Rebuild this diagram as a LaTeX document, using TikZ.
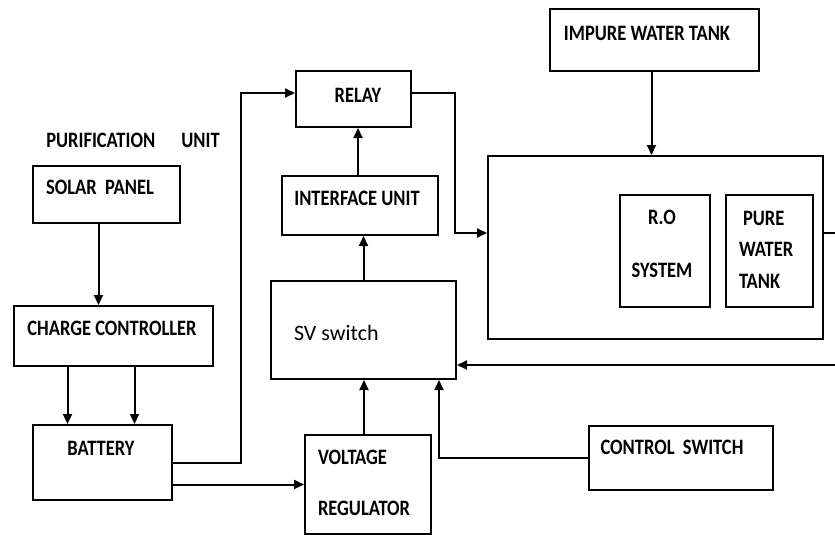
\documentclass[tikz,border=0pt]{standalone}
\usepackage{fontspec}
\setmainfont{Carlito}
\newfontfamily\capfont{Carlito}[FakeStretch=0.84]
\usetikzlibrary{arrows.meta}
\begin{document}
\begin{tikzpicture}[x=1pt, y=-1pt, line width=2pt,
  blk/.style={draw, rectangle, inner sep=0pt, anchor=north west},
  txt/.style={inner sep=0pt, font=\capfont\bfseries\fontsize{22}{26}\selectfont},
  >={Triangle[length=10pt, width=9pt]}]
  \useasboundingbox (0,0) rectangle (835,535);
  % 블록
  \node[blk, minimum width=209, minimum height=62] (imp) at (549,8) {};
  \node[blk, minimum width=115, minimum height=56] (relay) at (295,70) {};
  \node[blk, minimum width=147, minimum height=57] (solar) at (32,165) {};
  \node[blk, minimum width=156, minimum height=59] (iface) at (281,175) {};
  \node[blk, minimum width=335, minimum height=183] (big) at (487,155) {};
  \node[blk, minimum width=90, minimum height=112] (ro) at (619,194) {};
  \node[blk, minimum width=87, minimum height=112] (pure) at (725,194) {};
  \node[blk, minimum width=199, minimum height=60] (cc) at (13,305) {};
  \node[blk, minimum width=185, minimum height=98] (sv) at (270,280) {};
  \node[blk, minimum width=139, minimum height=75] (bat) at (32,424) {};
  \node[blk, minimum width=126, minimum height=99] (vreg) at (304,434) {};
  \node[blk, minimum width=184, minimum height=64] (ctrl) at (588,425) {};
  % 글자
  \node[txt] (imptxt) at (647,33) {IMPURE WATER TANK};
  \node[txt] (relaytxt) at (358,95) {RELAY};
  \node[txt] (unittxt) at (133,140) {PURIFICATION\quad\ UNIT};
  \node[txt] (solartxt) at (100,187) {SOLAR\ \ PANEL};
  \node[txt] (ifacetxt) at (357,198) {INTERFACE UNIT};
  \node[txt] (rotxt) at (662,217) {R.O};
  \node[txt] (systxt) at (662,270) {SYSTEM};
  \node[txt, anchor=west] (puretxt) at (742,218) {PURE};
  \node[txt, anchor=west] (watertxt) at (738,249) {WATER};
  \node[txt, anchor=west] (tanktxt) at (738,281) {TANK};
  \node[txt] (cctxt) at (112,328) {CHARGE CONTROLLER};
  \node[txt, anchor=west, font=\fontsize{22}{26}\selectfont] (svtxt) at (293,333) {SV switch};
  \node[txt] (battxt) at (101,448) {BATTERY};
  \node[txt, anchor=west] (volttxt) at (317,457) {VOLTAGE};
  \node[txt, anchor=west] (regtxt) at (317,508) {REGULATOR};
  \node[txt] (ctrltxt) at (672,447) {CONTROL\ \ SWITCH};
  % 꺾이는 점
  \coordinate (relayjog) at (455,233);
  \coordinate (batjog) at (241,300);
  \coordinate (fbin) at (835,365);
  \coordinate (pout) at (835,233);
  % 연결선
  \draw[->] ([xshift=-3pt]imp.south) -- ([xshift=-3pt]imp.south |- big.north);
  \draw[->] ([yshift=6pt]relay.east) -| (relayjog) -- (relayjog -| big.west);
  \draw (big.east |- pout) -- (pout);
  \draw[->] (fbin) -- (fbin -| sv.east);
  \draw[->] ([xshift=-2pt]iface.north) -- ([xshift=-2pt]iface.north |- relay.south);
  \draw[->] (sv.north) -- (sv.north |- iface.south);
  \draw[->] ([xshift=-4pt]vreg.north) -- ([xshift=-4pt]vreg.north |- sv.south);
  \draw[->] (ctrl.west) -| ([xshift=-18pt]sv.south east);
  \draw[->] ([xshift=-8pt]solar.south) -- ([xshift=-8pt]solar.south |- cc.north);
  \draw[->] ([xshift=-46pt]cc.south) -- ([xshift=-46pt]cc.south |- bat.north);
  \draw[->] ([xshift=21pt]cc.south) -- ([xshift=21pt]cc.south |- bat.north);
  \draw[->] (bat.east) -| (batjog) |- ([yshift=6pt]relay.west);
  \draw[->] ([yshift=-22pt]bat.east) -- ([yshift=-22pt]bat.east -| vreg.west);
\end{tikzpicture}
\end{document}
